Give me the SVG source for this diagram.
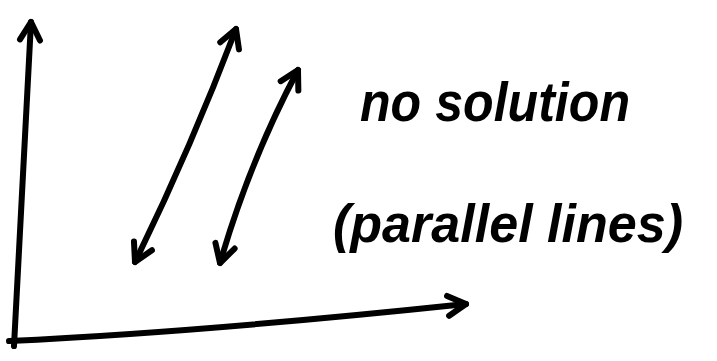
<svg xmlns="http://www.w3.org/2000/svg" width="717" height="361" viewBox="0 0 717 361">
<style>
.ln{fill:none;stroke:#000;stroke-width:6;stroke-linecap:round;stroke-linejoin:round}
.tx{font-family:"Liberation Sans",Arial,sans-serif;font-style:italic;font-weight:bold;fill:#000}
</style>
<defs>
<marker id="ah" markerUnits="userSpaceOnUse" viewBox="-24 -14 30 28" markerWidth="30" markerHeight="28" refX="0" refY="0" orient="auto-start-reverse">
<path d="M-18,-10 L0,0 L-18,10" fill="none" stroke="#000" stroke-width="6" stroke-linecap="round" stroke-linejoin="round"/>
</marker>
</defs>
<rect width="717" height="361" fill="#fff"/>
<g id="connectors">
<path id="y-axis" class="ln" d="M14,346 Q24,150 31,22" marker-end="url(#ah)"/>
<path id="x-axis" class="ln" d="M9,341 Q200,332 466,304" marker-end="url(#ah)"/>
<path id="line1" class="ln" d="M135,262 Q190,150 236,29" marker-start="url(#ah)" marker-end="url(#ah)"/>
<path id="line2" class="ln" d="M220,263 Q250,160 298,70" marker-start="url(#ah)" marker-end="url(#ah)"/>
</g>
<g id="label">
<text class="tx" x="360" y="121" font-size="56" textLength="270" lengthAdjust="spacingAndGlyphs">no solution</text>
<text class="tx" x="333" y="242" font-size="54" textLength="350" lengthAdjust="spacingAndGlyphs">(parallel lines)</text>
</g>
</svg>
